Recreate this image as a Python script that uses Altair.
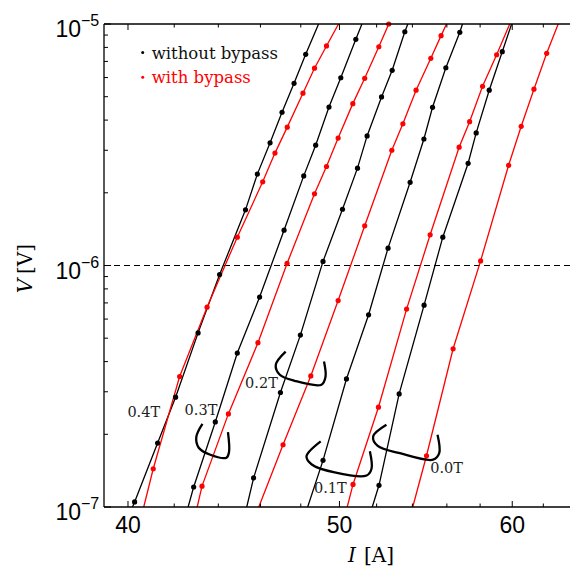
import altair as alt
import pandas as pd

W, H = 466, 483

# ---------------- data (I in A, V in V) ----------------
kinds = ["without bypass", "with bypass"]
kind_colors = ["#000000", "#ff0000"]

# 0.4 T
I_b04 = [40.28, 41.27, 42.06, 43.07, 44.06, 45.28, 45.85, 46.47, 47.06, 47.66, 48.25]
V_b04 = [1.05e-7, 1.84e-7, 2.85e-7, 5.26e-7, 9.17e-7, 1.70e-6, 2.39e-6, 3.22e-6, 4.31e-6, 5.68e-6, 7.49e-6]
I_r04 = [41.08, 42.24, 43.48, 44.89, 46.11, 46.71, 47.32, 48.11, 48.70, 49.32]
V_r04 = [1.44e-7, 3.47e-7, 6.72e-7, 1.31e-6, 2.22e-6, 2.92e-6, 3.74e-6, 5.17e-6, 6.56e-6, 8.11e-6]
# 0.3 T
I_b03 = [42.87, 43.86, 44.89, 45.96, 47.16, 48.15, 48.76, 49.45, 50.07, 50.87]
V_b03 = [1.21e-7, 2.25e-7, 4.34e-7, 7.40e-7, 1.40e-6, 2.35e-6, 3.15e-6, 4.53e-6, 5.99e-6, 8.64e-6]
I_r03 = [43.25, 44.47, 45.88, 47.31, 48.70, 49.32, 49.93, 50.71, 51.35, 52.12, 52.67]
V_r03 = [1.22e-7, 2.43e-7, 4.79e-7, 1.02e-6, 1.98e-6, 2.57e-6, 3.37e-6, 4.68e-6, 5.96e-6, 8.05e-6, 1.0e-5]
# 0.2 T
I_b02 = [45.67, 46.98, 47.98, 49.14, 50.16, 50.96, 51.48, 52.27, 52.86, 53.57]
V_b02 = [1.32e-7, 2.98e-7, 5.15e-7, 1.04e-6, 1.71e-6, 2.53e-6, 3.44e-6, 4.99e-6, 6.43e-6, 9.29e-6]
I_r02 = [47.11, 48.51, 49.93, 51.35, 52.84, 53.46, 54.21, 55.06, 55.66]
V_r02 = [1.81e-7, 3.49e-7, 7.16e-7, 1.46e-6, 3.00e-6, 3.86e-6, 5.32e-6, 7.21e-6, 8.95e-6]
# 0.1 T
I_b01 = [49.14, 50.37, 51.56, 52.63, 53.87, 54.66, 55.16, 55.94, 56.77]
V_b01 = [1.56e-7, 3.39e-7, 6.25e-7, 1.18e-6, 2.21e-6, 3.34e-6, 4.52e-6, 6.59e-6, 9.24e-6]
I_r01 = [50.72, 52.10, 53.67, 55.02, 56.73, 57.36, 58.15, 59.02]
V_r01 = [1.24e-7, 2.59e-7, 6.60e-7, 1.34e-6, 3.09e-6, 3.94e-6, 5.52e-6, 7.46e-6]
# 0.0 T
I_b00 = [52.13, 53.25, 54.67, 55.76, 57.27, 57.76, 58.56, 59.37]
V_b00 = [1.23e-7, 2.94e-7, 6.85e-7, 1.31e-6, 2.65e-6, 3.54e-6, 5.32e-6, 7.68e-6]
I_r00 = [54.81, 56.37, 58.03, 59.77, 60.57, 61.39, 62.22]
V_r00 = [1.63e-7, 4.52e-7, 1.045e-6, 2.60e-6, 3.77e-6, 5.37e-6, 7.56e-6]

# current where each drawn line meets V = 1e-7 (bottom) and V = 1e-5 (top)
V_bottom, V_top = 1e-7, 1e-5
line_ends = {
    "b04": (40.19, 48.91), "r04": (40.67, 49.95),
    "b03": (42.62, 51.20), "r03": (43.03, 52.67),
    "b02": (45.34, 53.74), "r02": (45.92, 55.98),
    "b01": (48.35, 56.93), "r01": (50.41, 59.84),
    "b00": (51.76, 59.96), "r00": (54.02, 62.98),
}

series = [
    ("b04", kinds[0], I_b04, V_b04), ("r04", kinds[1], I_r04, V_r04),
    ("b03", kinds[0], I_b03, V_b03), ("r03", kinds[1], I_r03, V_r03),
    ("b02", kinds[0], I_b02, V_b02), ("r02", kinds[1], I_r02, V_r02),
    ("b01", kinds[0], I_b01, V_b01), ("r01", kinds[1], I_r01, V_r01),
    ("b00", kinds[0], I_b00, V_b00), ("r00", kinds[1], I_r00, V_r00),
]

# field labels
lab_text = ["0.4T", "0.3T", "0.2T", "0.1T", "0.0T"]
lab_I = [40.67, 43.20, 46.05, 49.52, 55.98]
lab_V = [2.46e-7, 2.50e-7, 3.23e-7, 1.19e-7, 1.43e-7]

# hand-drawn braces grouping each pair
brace_I = {
    "0.3T": [43.27, 42.99, 43.10, 43.60, 44.38, 44.50, 44.45],
    "0.2T": [47.24, 46.75, 46.95, 47.69, 49.06, 49.27, 49.19],
    "0.1T": [49.02, 48.29, 48.56, 49.75, 51.45, 51.72, 51.63],
    "0.0T": [52.54, 51.81, 52.06, 53.29, 55.19, 55.55, 55.45],
}
brace_V = {
    "0.3T": [2.21e-7, 1.95e-7, 1.76e-7, 1.65e-7, 1.60e-7, 1.69e-7, 2.04e-7],
    "0.2T": [4.40e-7, 3.88e-7, 3.53e-7, 3.33e-7, 3.21e-7, 3.46e-7, 4.00e-7],
    "0.1T": [1.87e-7, 1.62e-7, 1.50e-7, 1.39e-7, 1.35e-7, 1.44e-7, 1.70e-7],
    "0.0T": [2.19e-7, 1.96e-7, 1.79e-7, 1.67e-7, 1.57e-7, 1.67e-7, 1.99e-7],
}

# ticks / tick labels
x_major = [40, 50, 60]
x_minor = [42, 44, 46, 48, 52, 54, 56, 58, 62]
x_labels = ["40", "50", "60"]
y_major = [1e-7, 1e-6, 1e-5]
y_minor = [2e-7, 3e-7, 4e-7, 5e-7, 6e-7, 7e-7, 8e-7, 9e-7,
           2e-6, 3e-6, 4e-6, 5e-6, 6e-6, 7e-6, 8e-6, 9e-6]
y_exp = ["\u22127", "\u22126", "\u22125"]
ref_V = [1e-6]

# ---------------- tables ----------------
pts_rows, line_rows = [], []
for sid, kind, Is, Vs in series:
    lo, hi = line_ends[sid]
    line_rows.append(dict(sid=sid, kind=kind, I=lo, V=V_bottom))
    for i, v in zip(Is, Vs):
        pts_rows.append(dict(sid=sid, kind=kind, I=i, V=v))
        line_rows.append(dict(sid=sid, kind=kind, I=i, V=v))
    line_rows.append(dict(sid=sid, kind=kind, I=hi, V=V_top))
pts = pd.DataFrame(pts_rows)
lines = pd.DataFrame(line_rows)

brace_rows = []
for b in brace_I:
    for k, (i, v) in enumerate(zip(brace_I[b], brace_V[b])):
        brace_rows.append(dict(b=b, k=k, I=i, V=v))
braces = pd.DataFrame(brace_rows)

labels = pd.DataFrame(dict(t=lab_text, I=lab_I, V=lab_V))
xmaj = pd.DataFrame(dict(I=x_major, t=x_labels))
xmin = pd.DataFrame(dict(I=x_minor))
ymaj = pd.DataFrame(dict(V=y_major, e=y_exp))
ymin = pd.DataFrame(dict(V=y_minor))
ref = pd.DataFrame(dict(V=ref_V))
one = pd.DataFrame(dict(a=[0]))

xs = alt.Scale(type="log", domain=[39, 63.77], nice=False)
ys = alt.Scale(type="log", domain=[1e-7, 1e-5], nice=False)
cs = alt.Scale(domain=kinds, range=kind_colors)


def X(f="I"):
    return alt.X(f"{f}:Q", scale=xs, axis=None)


def Y(f="V"):
    return alt.Y(f"{f}:Q", scale=ys, axis=None)


serif = "DejaVu Serif"
sans = "Liberation Sans"

data_lines = alt.Chart(lines).mark_line(strokeWidth=1.3, clip=True).encode(
    x=X(), y=Y(), color=alt.Color("kind:N", scale=cs, legend=None),
    detail="sid:N", order=alt.Order("I:Q"))
data_pts = alt.Chart(pts).mark_circle(size=27, opacity=1).encode(
    x=X(), y=Y(), color=alt.Color("kind:N", scale=cs, legend=None))

ref_line = alt.Chart(ref).mark_rule(color="black", strokeWidth=1.2, strokeDash=[6, 4]).encode(y=Y())

brace_lines = alt.Chart(braces).mark_line(color="black", strokeWidth=2.3,
                                          interpolate="catmull-rom").encode(
    x=X(), y=Y(), detail="b:N", order=alt.Order("k:Q"))

field_labels = alt.Chart(labels).mark_text(font=serif, fontSize=14.5, color="#222",
                                           align="center", baseline="middle").encode(
    x=X(), y=Y(), text="t:N")

# frame
frame_left = alt.Chart(one).mark_rule(color="black", strokeWidth=1.3).encode(
    x=alt.value(0), y=alt.value(0), y2=alt.value(H))
frame_bottom = alt.Chart(one).mark_rule(color="black", strokeWidth=1.3).encode(
    x=alt.value(0), x2=alt.value(W), y=alt.value(H))
frame_top = alt.Chart(one).mark_rule(color="black", strokeWidth=1.3).encode(
    x=alt.value(0), x2=alt.value(W), y=alt.value(0))

# inward ticks
tk = dict(color="black", strokeWidth=1)
xb_maj = alt.Chart(xmaj).mark_rule(**tk).encode(x=X(), y=alt.value(H), y2=alt.value(H - 6))
xt_maj = alt.Chart(xmaj).mark_rule(**tk).encode(x=X(), y=alt.value(0), y2=alt.value(6))
xb_min = alt.Chart(xmin).mark_rule(**tk).encode(x=X(), y=alt.value(H), y2=alt.value(H - 3.5))
xt_min = alt.Chart(xmin).mark_rule(**tk).encode(x=X(), y=alt.value(0), y2=alt.value(3.5))
yl_maj = alt.Chart(ymaj).mark_rule(**tk).encode(y=Y(), x=alt.value(0), x2=alt.value(7))
yl_min = alt.Chart(ymin).mark_rule(**tk).encode(y=Y(), x=alt.value(0), x2=alt.value(4))

# tick labels
x_tick_labels = alt.Chart(xmaj).mark_text(font=sans, fontSize=23, color="black",
                                          align="center", baseline="alphabetic").encode(
    x=X(), y=alt.value(H + 26), text="t:N")
y_tick_10 = alt.Chart(ymaj).mark_text(text="10", font=sans, fontSize=23, color="black",
                                      align="right", baseline="alphabetic", dy=13).encode(
    y=Y(), x=alt.value(-23))
y_tick_exp = alt.Chart(ymaj).mark_text(font=sans, fontSize=16, color="black",
                                       align="left", baseline="alphabetic", dy=2).encode(
    y=Y(), x=alt.value(-23), text="e:N")

# axis titles
xt_I = alt.Chart(one).mark_text(text="I", font=serif, fontStyle="italic", fontSize=20,
                                align="left", baseline="alphabetic", color="black").encode(
    x=alt.value(244), y=alt.value(538))
xt_A = alt.Chart(one).mark_text(text="[A]", font=serif, fontSize=20,
                                align="left", baseline="alphabetic", color="black").encode(
    x=alt.value(260), y=alt.value(538))
yt_V = alt.Chart(one).mark_text(text="V", font=serif, fontStyle="italic", fontSize=20,
                                angle=270, align="center", baseline="middle", color="black").encode(
    x=alt.value(-78), y=alt.value(262))
yt_U = alt.Chart(one).mark_text(text="[V]", font=serif, fontSize=20,
                                angle=270, align="center", baseline="middle", color="black").encode(
    x=alt.value(-78), y=alt.value(235))

# legend
leg_dot_b = alt.Chart(one).mark_circle(size=9, color="black", opacity=1).encode(
    x=alt.value(38.7), y=alt.value(28.5))
leg_txt_b = alt.Chart(one).mark_text(text=kinds[0], font=serif, fontSize=16.5, color="#111",
                                     align="left", baseline="alphabetic").encode(
    x=alt.value(47.7), y=alt.value(35.3))
leg_dot_r = alt.Chart(one).mark_circle(size=9, color="#ff0000", opacity=1).encode(
    x=alt.value(38.7), y=alt.value(53.3))
leg_txt_r = alt.Chart(one).mark_text(text=kinds[1], font=serif, fontSize=16.5, color="#ff0000",
                                     align="left", baseline="alphabetic").encode(
    x=alt.value(47.7), y=alt.value(58.7))

chart = alt.layer(
    ref_line, data_lines, data_pts, brace_lines, field_labels,
    frame_left, frame_bottom, frame_top,
    xb_maj, xt_maj, xb_min, xt_min, yl_maj, yl_min,
    x_tick_labels, y_tick_10, y_tick_exp,
    xt_I, xt_A, yt_V, yt_U,
    leg_dot_b, leg_txt_b, leg_dot_r, leg_txt_r,
).properties(
    width=W, height=H,
    padding={"left": 96, "top": 16, "right": 0, "bottom": 59},
    autosize=alt.AutoSizeParams(type="none"),
    background="white",
).configure_view(stroke=None)

chart.save("out.html", embed_options={"renderer": "svg", "actions": False})
